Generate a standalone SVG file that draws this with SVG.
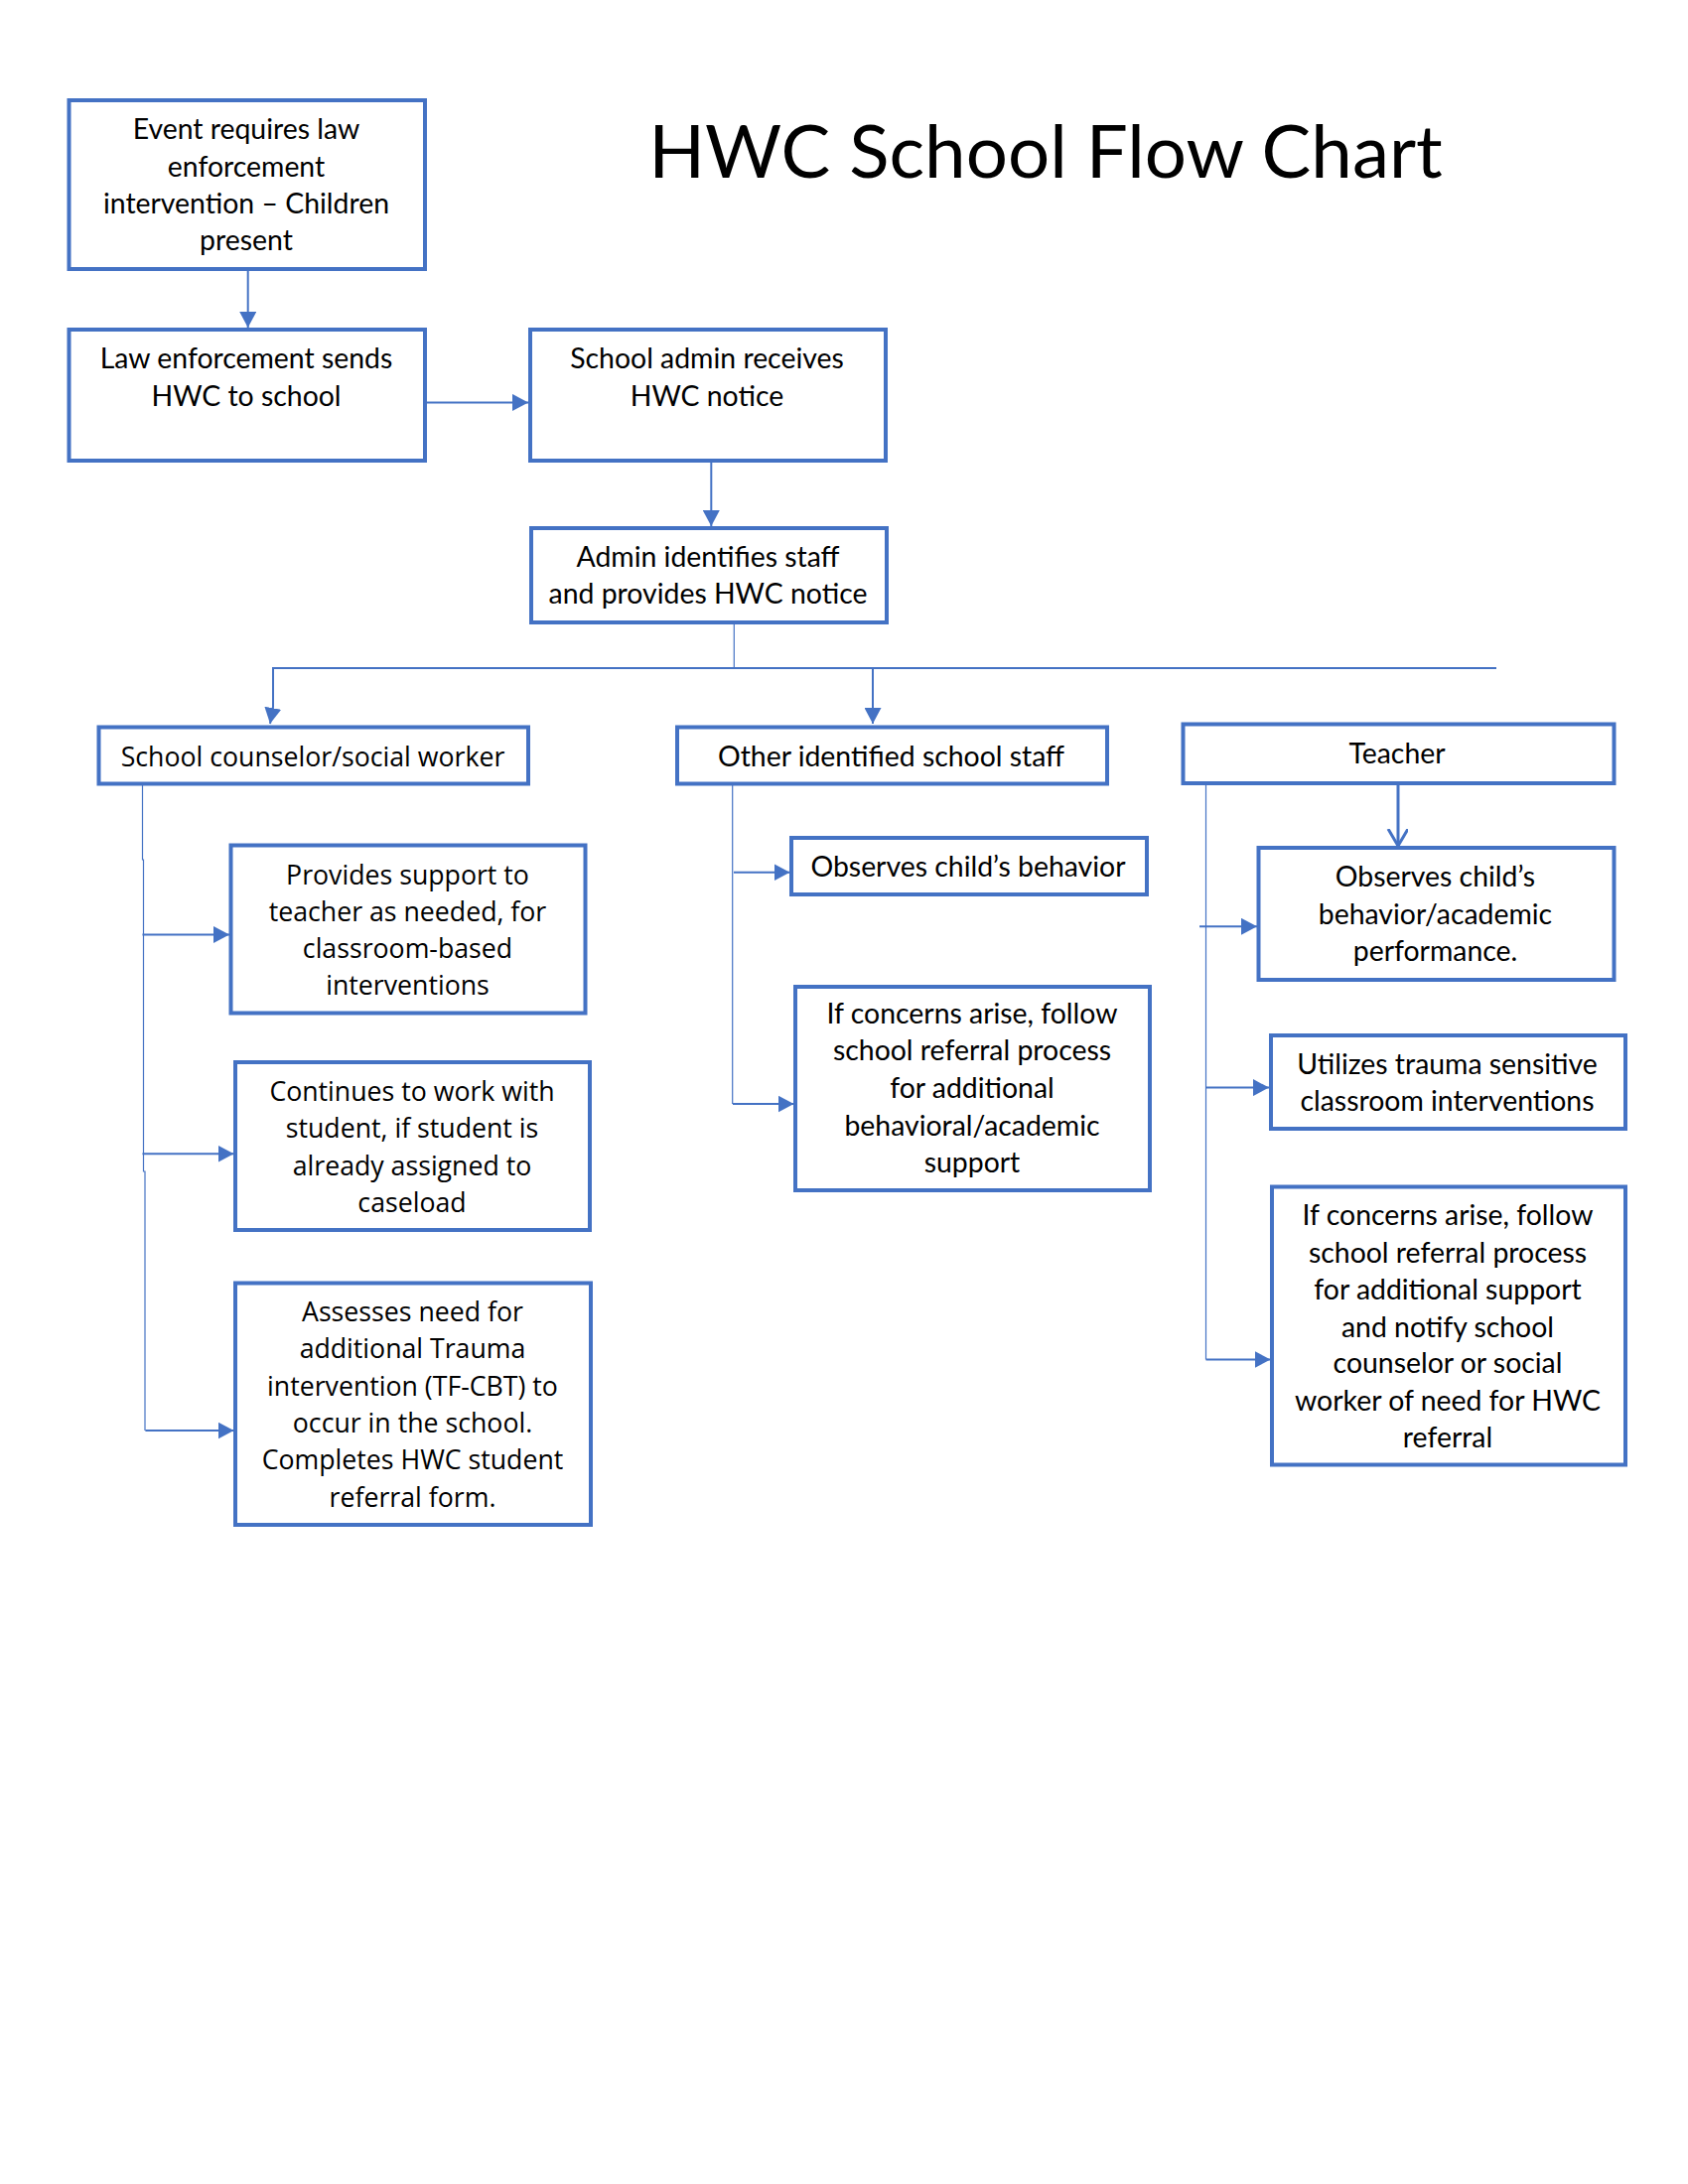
<svg xmlns="http://www.w3.org/2000/svg" width="1700" height="2200" viewBox="0 0 1700 2200">
<defs>
<style>
.box{fill:#fff;stroke:#4472C4;stroke-width:4}
.c{font-family:Lato,"Liberation Sans",sans-serif;font-size:28.4px;fill:#000;text-anchor:middle}
.s{font-family:"Open Sans","Noto Sans",sans-serif;font-size:26.7px;fill:#000;text-anchor:middle}
.t{font-family:Lato,"Liberation Sans",sans-serif;font-size:74.5px;fill:#000;text-anchor:middle}
.ln{fill:none;stroke:#4472C4;stroke-width:2}
.thin{fill:none;stroke:#4472C4;stroke-width:1.2}
.arr{fill:none;stroke:#4472C4;stroke-width:2;marker-end:url(#ah)}
.open{fill:none;stroke:#4472C4;stroke-width:3;marker-end:url(#av)}
</style>
<marker id="ah" markerUnits="userSpaceOnUse" markerWidth="17" markerHeight="17" refX="16" refY="8.5" orient="auto">
<path d="M0,0 L16,8.5 L0,17 z" fill="#4472C4"/>
</marker>
<marker id="av" markerUnits="userSpaceOnUse" markerWidth="20" markerHeight="22" refX="17" refY="10" orient="auto">
<path d="M0,0 L17,10 L0,20" fill="none" stroke="#4472C4" stroke-width="3"/>
</marker>
</defs>
<rect width="1700" height="2200" fill="#fff"/>

<g id="title"><text class="t" x="1053" y="179">HWC School Flow Chart</text></g>

<g id="connectors">
<line class="arr" x1="249.7" y1="271" x2="249.7" y2="330"/>
<line class="arr" x1="428" y1="405.4" x2="532" y2="405.4"/>
<line class="arr" x1="716.3" y1="465" x2="716.3" y2="530"/>
<line class="thin" x1="739.3" y1="629" x2="739.3" y2="673"/>
<line class="ln" x1="274" y1="673" x2="1507" y2="673"/>
<path class="arr" d="M275,673 L275,712 L272,729"/>
<line class="arr" x1="879" y1="673" x2="879" y2="729"/>
<path class="thin" d="M143.5,791 V866 H144.5 V1180 H146 V1441"/>
<line class="arr" x1="143.5" y1="941.5" x2="231" y2="941.5"/>
<line class="arr" x1="143.5" y1="1162.3" x2="235.5" y2="1162.3"/>
<line class="arr" x1="146.4" y1="1441" x2="235.5" y2="1441"/>
<path class="thin" d="M737.7,791 V1112"/>
<line class="arr" x1="739" y1="878.7" x2="795.5" y2="878.7"/>
<line class="arr" x1="738" y1="1112" x2="799.5" y2="1112"/>
<line class="open" x1="1408" y1="789" x2="1408" y2="852"/>
<path class="thin" d="M1214.5,789 V1369.5"/>
<line class="arr" x1="1208" y1="933.3" x2="1266" y2="933.3"/>
<line class="arr" x1="1214.5" y1="1095.6" x2="1278" y2="1095.6"/>
<line class="arr" x1="1214.5" y1="1369.5" x2="1279.5" y2="1369.5"/>
</g>

<g id="n1"><rect class="box" x="69.5" y="101" width="358.5" height="170"/>
<text class="c" x="248" y="140">Event requires law</text>
<text class="c" x="248" y="177.5">enforcement</text>
<text class="c" x="248" y="215">intervention – Children</text>
<text class="c" x="248" y="252">present</text></g>

<g id="n2"><rect class="box" x="69.5" y="332" width="358.5" height="132"/>
<text class="c" x="248" y="371">Law enforcement sends</text>
<text class="c" x="248" y="408.5">HWC to school</text></g>

<g id="n3"><rect class="box" x="534" y="332" width="358" height="132"/>
<text class="c" x="712" y="371">School admin receives</text>
<text class="c" x="712" y="408.5">HWC notice</text></g>

<g id="n4"><rect class="box" x="535" y="532" width="358" height="95"/>
<text class="c" x="713" y="571">Admin identifies staff</text>
<text class="c" x="713" y="608">and provides HWC notice</text></g>

<g id="n5"><rect class="box" x="99.5" y="732.5" width="432.5" height="57"/>
<text class="s" x="315" y="771.5">School counselor/social worker</text></g>

<g id="n6"><rect class="box" x="682" y="732.5" width="433" height="57"/>
<text class="c" x="897.5" y="771.5">Other identified school staff</text></g>

<g id="n7"><rect class="box" x="1191.5" y="729.5" width="434" height="59.5"/>
<text class="c" x="1407" y="768.5">Teacher</text></g>

<g id="n8"><rect class="box" x="232.5" y="851.5" width="357" height="169"/>
<text class="s" x="410.5" y="890.8">Provides support to</text>
<text class="s" x="410.5" y="927.8">teacher as needed, for</text>
<text class="s" x="410.5" y="965">classroom-based</text>
<text class="s" x="410.5" y="1002.3">interventions</text></g>

<g id="n9"><rect class="box" x="237" y="1070" width="357" height="169"/>
<text class="s" x="415" y="1109">Continues to work with</text>
<text class="s" x="415" y="1146">student, if student is</text>
<text class="s" x="415" y="1183.5">already assigned to</text>
<text class="s" x="415" y="1221">caseload</text></g>

<g id="n10"><rect class="box" x="237" y="1292.5" width="358" height="243.5"/>
<text class="s" x="415.5" y="1331.3">Assesses need for</text>
<text class="s" x="415.5" y="1368.3">additional Trauma</text>
<text class="s" x="415.5" y="1405.8">intervention (TF-CBT) to</text>
<text class="s" x="415.5" y="1443.4">occur in the school.</text>
<text class="s" x="415.5" y="1480.4">Completes HWC student</text>
<text class="s" x="415.5" y="1518">referral form.</text></g>

<g id="n11"><rect class="box" x="797" y="844" width="358" height="57"/>
<text class="c" x="975" y="883">Observes child’s behavior</text></g>

<g id="n12"><rect class="box" x="801" y="994" width="357" height="205"/>
<text class="c" x="979" y="1031.4">If concerns arise, follow</text>
<text class="c" x="979" y="1068.4">school referral process</text>
<text class="c" x="979" y="1106">for additional</text>
<text class="c" x="979" y="1143.5">behavioral/academic</text>
<text class="c" x="979" y="1180.5">support</text></g>

<g id="n13"><rect class="box" x="1267.5" y="854" width="358" height="133"/>
<text class="c" x="1445.5" y="893">Observes child’s</text>
<text class="c" x="1445.5" y="930.8">behavior/academic</text>
<text class="c" x="1445.5" y="968.4">performance.</text></g>

<g id="n14"><rect class="box" x="1280" y="1043" width="357" height="94"/>
<text class="c" x="1457.5" y="1081.7">Utilizes trauma sensitive</text>
<text class="c" x="1457.5" y="1119.3">classroom interventions</text></g>

<g id="n15"><rect class="box" x="1281" y="1195.5" width="356" height="280"/>
<text class="c" x="1458" y="1234.4">If concerns arise, follow</text>
<text class="c" x="1458" y="1271.9">school referral process</text>
<text class="c" x="1458" y="1308.9">for additional support</text>
<text class="c" x="1458" y="1346.5">and notify school</text>
<text class="c" x="1458" y="1383.4">counselor or social</text>
<text class="c" x="1458" y="1421">worker of need for HWC</text>
<text class="c" x="1458" y="1458">referral</text></g>
</svg>
